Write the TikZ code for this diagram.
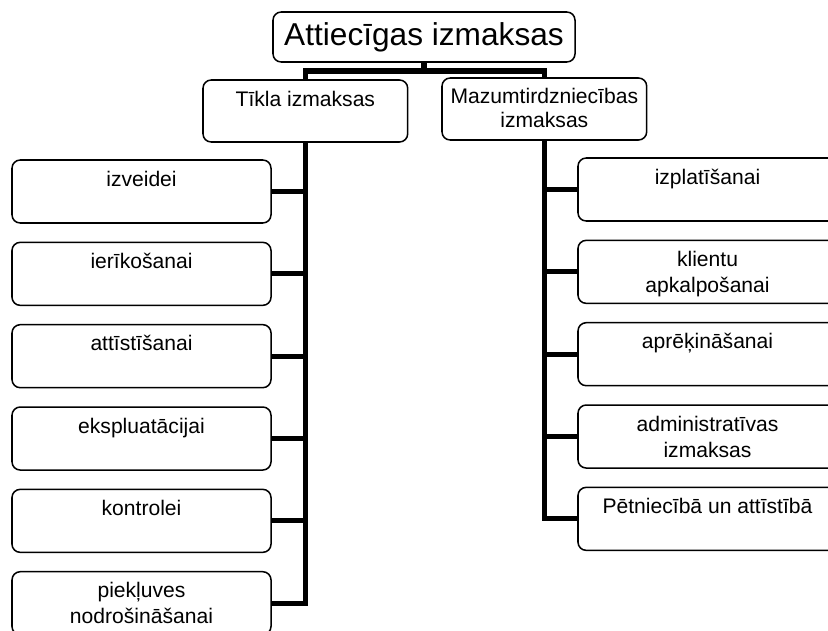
\documentclass[tikz,border=0pt]{standalone}
\usepackage{fontspec}
\setmainfont{Liberation Sans}
\usetikzlibrary{positioning}

\tikzset{
  box/.style={draw, line width=1.3pt, rounded corners=7pt, inner sep=0pt, outer sep=0pt, align=center},
  head/.style={box, minimum width=9.06cm, minimum height=1.5cm, font=\fontsize{27pt}{32pt}\selectfont},
  branch/.style={box, minimum width=6.14cm, text height=0.78cm, text depth=1.08cm, font=\fontsize{18pt}{20pt}\selectfont},
  leaf/.style={box, minimum width=7.77cm, text height=0.78cm, text depth=1.11cm, font=\fontsize{18pt}{22pt}\selectfont},
  % two lines: the baseline is the last one
  branch two/.style={text height=1.48cm, text depth=0.38cm},
  leaf two/.style={text height=1.56cm, text depth=0.33cm},
  conn/.style={line width=4.3pt},
}

\begin{document}
\begin{tikzpicture}[x=0.03cm,y=-0.03cm]
\useasboundingbox (0,0) rectangle (828,630);
\fill[white] (0,0) rectangle (828,630);
\clip (0,0) rectangle (828,630);

% top
\node[head, anchor=north west] (title) at (273,12) {Attiecīgas izmaksas};
\node[branch, anchor=north west] (tikla) at (203,80) {Tīkla izmaksas};
\node[branch, branch two, anchor=north west] (mazum) at (442,78) {Mazumtirdzniecības\\izmaksas};

% left column
\node[leaf, anchor=north west] (izveidei) at (12,160) {izveidei};
\node[leaf, below=0.58cm of izveidei] (ierikosanai) {ierīkošanai};
\node[leaf, below=0.58cm of ierikosanai] (attistisanai) {attīstīšanai};
\node[leaf, below=0.58cm of attistisanai] (ekspluatacijai) {ekspluatācijai};
\node[leaf, below=0.58cm of ekspluatacijai] (kontrolei) {kontrolei};
\node[leaf, leaf two, below=0.58cm of kontrolei] (piekluves) {piekļuves\\nodrošināšanai};

% right column
\node[leaf, anchor=north west] (izplatisanai) at (578,158) {izplatīšanai};
\node[leaf, leaf two, below=0.58cm of izplatisanai] (klientu) {klientu\\apkalpošanai};
\node[leaf, below=0.58cm of klientu] (aprekinasanai) {aprēķināšanai};
\node[leaf, leaf two, below=0.58cm of aprekinasanai] (admin) {administratīvas\\izmaksas};
\node[leaf, below=0.58cm of admin] (petnieciba) {Pētniecībā un attīstībā};

% connectors
\draw[conn] (title.south) -- ++(0,9) coordinate (fork);
\draw[conn] (fork) -| (tikla.north);
\draw[conn] (fork) -| (mazum.north);

\draw[conn] (tikla.south) |- (piekluves.east);
\draw[conn] (izveidei.east) -- (izveidei.east -| tikla.south);
\draw[conn] (ierikosanai.east) -- (ierikosanai.east -| tikla.south);
\draw[conn] (attistisanai.east) -- (attistisanai.east -| tikla.south);
\draw[conn] (ekspluatacijai.east) -- (ekspluatacijai.east -| tikla.south);
\draw[conn] (kontrolei.east) -- (kontrolei.east -| tikla.south);

\draw[conn] (mazum.south) |- (petnieciba.west);
\draw[conn] (izplatisanai.west) -- (izplatisanai.west -| mazum.south);
\draw[conn] (klientu.west) -- (klientu.west -| mazum.south);
\draw[conn] (aprekinasanai.west) -- (aprekinasanai.west -| mazum.south);
\draw[conn] (admin.west) -- (admin.west -| mazum.south);
\end{tikzpicture}
\end{document}
